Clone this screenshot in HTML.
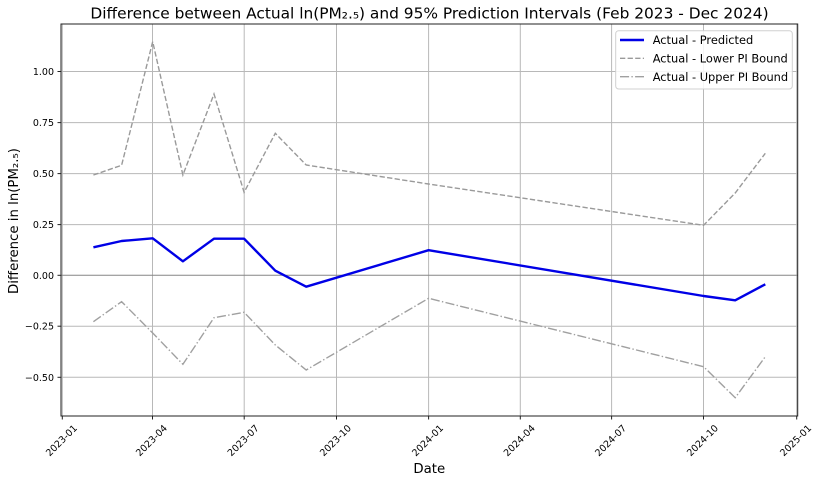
<!DOCTYPE html>
<html>
<head>
<meta charset="utf-8">
<style>
html,body{margin:0;padding:0;background:#fff;}
svg{display:block;}
text{font-family:"DejaVu Sans","Liberation Sans",sans-serif;fill:#000;}
</style>
</head>
<body>
<svg width="820" height="478" viewBox="0 0 820 478" xmlns="http://www.w3.org/2000/svg">
<rect x="0" y="0" width="820" height="478" fill="#fff"/>

<!-- grid -->
<g stroke="#b8b8b8" stroke-width="1" fill="none">
  <line x1="62.3" y1="24" x2="62.3" y2="416"/>
  <line x1="152.5" y1="24" x2="152.5" y2="416"/>
  <line x1="244.2" y1="24" x2="244.2" y2="416"/>
  <line x1="336.5" y1="24" x2="336.5" y2="416"/>
  <line x1="428.6" y1="24" x2="428.6" y2="416"/>
  <line x1="520.3" y1="24" x2="520.3" y2="416"/>
  <line x1="611.6" y1="24" x2="611.6" y2="416"/>
  <line x1="703.5" y1="24" x2="703.5" y2="416"/>
  <line x1="796.7" y1="24" x2="796.7" y2="416"/>
  <line x1="61" y1="71.5" x2="798" y2="71.5"/>
  <line x1="61" y1="122.6" x2="798" y2="122.6"/>
  <line x1="61" y1="173.6" x2="798" y2="173.6"/>
  <line x1="61" y1="224.6" x2="798" y2="224.6"/>
  <line x1="61" y1="326.2" x2="798" y2="326.2"/>
  <line x1="61" y1="377.3" x2="798" y2="377.3"/>
</g>
<!-- zero line -->
<line x1="61" y1="275.3" x2="798" y2="275.3" stroke="#858585" stroke-width="1"/>

<!-- Lower PI (dashed) -->
<polyline fill="none" stroke="#9a9a9a" stroke-width="1.4" stroke-dasharray="5.3,2.3"
 points="93.4,175 121.6,165.3 152.7,41.7 182.9,175 214,94 244.1,192.3 275.3,133.3 306.2,165 428.6,184 703.6,225.3 735.2,193 765.3,153.3"/>
<!-- Upper PI (dash-dot) -->
<polyline fill="none" stroke="#a0a0a0" stroke-width="1.4" stroke-dasharray="9.1,2.3,1.4,2.3"
 points="93.4,321.7 121.6,301.7 152.7,333 182.9,364.3 214,317.7 244.1,312.3 275.3,345 306.2,370 428.6,298.3 703.6,366.7 735.2,397.7 765.3,356.7"/>
<!-- Actual - Predicted -->
<polyline fill="none" stroke="#0000e6" stroke-width="2.4" stroke-linejoin="round"
 points="93.4,247.3 121.6,241 152.7,238.3 182.9,261.3 214,238.7 244.1,238.7 275.3,270.7 306.2,286.7 428.6,250.2 703.6,296 735.2,300.3 765.3,284.3"/>

<!-- spines -->
<g stroke="#222" stroke-width="1" fill="none">
  <rect x="61" y="24" width="736.7" height="392"/>
</g>

<!-- y ticks -->
<g stroke="#222" stroke-width="1">
  <line x1="57.5" y1="71.5" x2="61" y2="71.5"/>
  <line x1="57.5" y1="122.6" x2="61" y2="122.6"/>
  <line x1="57.5" y1="173.6" x2="61" y2="173.6"/>
  <line x1="57.5" y1="224.6" x2="61" y2="224.6"/>
  <line x1="57.5" y1="275.3" x2="61" y2="275.3"/>
  <line x1="57.5" y1="326.2" x2="61" y2="326.2"/>
  <line x1="57.5" y1="377.3" x2="61" y2="377.3"/>
</g>
<g font-size="9.5" text-anchor="end">
  <text x="54" y="75">1.00</text>
  <text x="54" y="126.1">0.75</text>
  <text x="54" y="177.1">0.50</text>
  <text x="54" y="228.1">0.25</text>
  <text x="54" y="278.8">0.00</text>
  <text x="54" y="329.7">−0.25</text>
  <text x="54" y="380.8">−0.50</text>
</g>

<!-- x ticks -->
<g stroke="#222" stroke-width="1">
  <line x1="62.3" y1="416" x2="62.3" y2="419.5"/>
  <line x1="152.5" y1="416" x2="152.5" y2="419.5"/>
  <line x1="244.2" y1="416" x2="244.2" y2="419.5"/>
  <line x1="336.5" y1="416" x2="336.5" y2="419.5"/>
  <line x1="428.6" y1="416" x2="428.6" y2="419.5"/>
  <line x1="520.3" y1="416" x2="520.3" y2="419.5"/>
  <line x1="611.6" y1="416" x2="611.6" y2="419.5"/>
  <line x1="703.5" y1="416" x2="703.5" y2="419.5"/>
  <line x1="796.7" y1="416" x2="796.7" y2="419.5"/>
</g>
<g font-size="9.5" text-anchor="middle" dominant-baseline="central">
  <text x="62" y="441" transform="rotate(-45 62 441)">2023-01</text>
  <text x="152" y="441" transform="rotate(-45 152 441)">2023-04</text>
  <text x="243.7" y="441" transform="rotate(-45 243.7 441)">2023-07</text>
  <text x="336" y="441" transform="rotate(-45 336 441)">2023-10</text>
  <text x="428.1" y="441" transform="rotate(-45 428.1 441)">2024-01</text>
  <text x="519.8" y="441" transform="rotate(-45 519.8 441)">2024-04</text>
  <text x="611.1" y="441" transform="rotate(-45 611.1 441)">2024-07</text>
  <text x="703" y="441" transform="rotate(-45 703 441)">2024-10</text>
  <text x="796.2" y="441" transform="rotate(-45 796.2 441)">2025-01</text>
</g>

<!-- axis labels -->
<text x="429.3" y="473" font-size="13.3" text-anchor="middle">Date</text>
<text x="18" y="221" font-size="13.3" text-anchor="middle" transform="rotate(-90 18 221)">Difference in ln(PM₂.₅)</text>

<!-- title -->
<text x="429.5" y="18.3" font-size="15.4" text-anchor="middle">Difference between Actual ln(PM₂.₅) and 95% Prediction Intervals (Feb 2023 - Dec 2024)</text>

<!-- legend -->
<rect x="615.7" y="30.7" width="176.6" height="58.3" rx="3" ry="3" fill="#fff" fill-opacity="0.85" stroke="#d0d0d0" stroke-width="1"/>
<line x1="620" y1="40" x2="644" y2="40" stroke="#0000e6" stroke-width="2.4"/>
<line x1="620" y1="58.3" x2="644" y2="58.3" stroke="#9a9a9a" stroke-width="1.4" stroke-dasharray="5.3,2.3"/>
<line x1="620" y1="76.7" x2="644" y2="76.7" stroke="#a0a0a0" stroke-width="1.4" stroke-dasharray="9.1,2.3,1.4,2.3"/>
<g font-size="11.4">
  <text x="652.7" y="44.1">Actual - Predicted</text>
  <text x="652.7" y="62.4">Actual - Lower PI Bound</text>
  <text x="652.7" y="80.8">Actual - Upper PI Bound</text>
</g>
</svg>
</body>
</html>
